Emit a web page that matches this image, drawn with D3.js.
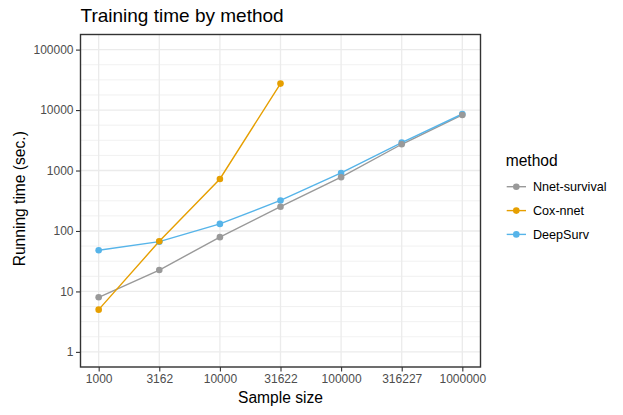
<!DOCTYPE html>
<html>
<head>
<meta charset="utf-8">
<script src="https://cdn.jsdelivr.net/npm/d3@7"></script>
<style>
  html, body { margin: 0; padding: 0; background: #fff; }
  svg { display: block; font-family: "Liberation Sans", Arial, Helvetica, sans-serif; }
</style>
</head>
<body>
<svg id="chart" width="623" height="415"></svg>
<script>
// ---- data ----
const sampleSizes = [1000, 3162, 10000, 31622, 100000, 316227, 1000000];
const sampleLabels = ["1000", "3162", "10000", "31622", "100000", "316227", "1000000"];
const methods = ["Nnet-survival", "Cox-nnet", "DeepSurv"];
const nnetSurvival = [8.0, 22.6, 79, 252, 775, 2720, 8300];
const coxNnet = [5.0, 67.5, 725, 27400];
const deepSurv = [48, 66.5, 131, 320, 912, 2890, 8610];
const yTicks = [1, 10, 100, 1000, 10000, 100000];
const yTickLabels = ["1", "10", "100", "1000", "10000", "100000"];
const colors = ["#999999", "#E69F00", "#56B4E9"];

const seriesValues = [nnetSurvival, coxNnet, deepSurv];
const lineOrder = [0, 1, 2];
const pointOrder = [2, 0, 1];

// ---- layout ----
const svg = d3.select("#chart");
const panel = { left: 80.5, right: 480.5, top: 34.5, bottom: 367 };

const xLogMin = Math.log10(d3.min(sampleSizes)), xLogMax = Math.log10(d3.max(sampleSizes));
const xPad = (xLogMax - xLogMin) * 0.05;
const x = d3.scaleLog()
  .domain([Math.pow(10, xLogMin - xPad), Math.pow(10, xLogMax + xPad)])
  .range([panel.left, panel.right]);

const yLogMin = 0, yLogMax = 5;
const yPad = (yLogMax - yLogMin) * 0.05;
const y = d3.scaleLog()
  .domain([Math.pow(10, yLogMin - yPad), Math.pow(10, yLogMax + yPad)])
  .range([panel.bottom, panel.top]);

// panel background
svg.append("rect")
  .attr("x", panel.left).attr("y", panel.top)
  .attr("width", panel.right - panel.left).attr("height", panel.bottom - panel.top)
  .attr("fill", "#fff");

// minor y grid (quarter decades)
const minorY = [];
for (let e = yLogMin - yPad; e <= yLogMax + yPad + 1e-9; e += 0.25) {
  if (Math.abs(e - Math.round(e)) > 1e-6) minorY.push(Math.pow(10, e));
}
svg.append("g").selectAll("line").data(minorY).join("line")
  .attr("x1", panel.left).attr("x2", panel.right)
  .attr("y1", d => y(d)).attr("y2", d => y(d))
  .attr("stroke", "#ebebeb").attr("stroke-width", 0.7);

// major grid
svg.append("g").selectAll("line").data(yTicks).join("line")
  .attr("x1", panel.left).attr("x2", panel.right)
  .attr("y1", d => y(d)).attr("y2", d => y(d))
  .attr("stroke", "#ebebeb").attr("stroke-width", 1.3);
svg.append("g").selectAll("line").data(sampleSizes).join("line")
  .attr("y1", panel.top).attr("y2", panel.bottom)
  .attr("x1", d => x(d)).attr("x2", d => x(d))
  .attr("stroke", "#ebebeb").attr("stroke-width", 1.3);

// series
const line = d3.line().x(d => x(d[0])).y(d => y(d[1]));
const ptsOf = i => seriesValues[i].map((v, j) => [sampleSizes[j], v]);
const linesG = svg.append("g");
lineOrder.forEach(i => {
  linesG.append("path").datum(ptsOf(i))
    .attr("d", line).attr("fill", "none")
    .attr("stroke", colors[i]).attr("stroke-width", 1.4);
});
const pointsG = svg.append("g");
pointOrder.forEach(i => {
  pointsG.append("g").selectAll("circle").data(ptsOf(i)).join("circle")
    .attr("cx", d => x(d[0])).attr("cy", d => y(d[1]))
    .attr("r", 3.3).attr("fill", colors[i]);
});

// panel border
svg.append("rect")
  .attr("x", panel.left).attr("y", panel.top)
  .attr("width", panel.right - panel.left).attr("height", panel.bottom - panel.top)
  .attr("fill", "none").attr("stroke", "#333333").attr("stroke-width", 1.4);

// axes
const yAxis = d3.axisLeft(y).tickValues(yTicks)
  .tickFormat((d, i) => yTickLabels[i]).tickSize(4.5).tickPadding(2.5);
const gy = svg.append("g").attr("transform", `translate(${panel.left},0)`).call(yAxis);
gy.select(".domain").remove();
gy.selectAll(".tick line").attr("stroke", "#333333").attr("stroke-width", 1.1);
gy.selectAll(".tick text").attr("fill", "#4d4d4d")
  .style("font-size", "12px").style("font-family", "'Liberation Sans', Arial, sans-serif");

const xAxis = d3.axisBottom(x).tickValues(sampleSizes)
  .tickFormat((d, i) => sampleLabels[i]).tickSize(4.5).tickPadding(3);
const gx = svg.append("g").attr("transform", `translate(0,${panel.bottom})`).call(xAxis);
gx.select(".domain").remove();
gx.selectAll(".tick line").attr("stroke", "#333333").attr("stroke-width", 1.1);
gx.selectAll(".tick text").attr("fill", "#4d4d4d")
  .style("font-size", "12px").style("font-family", "'Liberation Sans', Arial, sans-serif");

// titles
svg.append("text")
  .attr("x", panel.left).attr("y", 21.5)
  .attr("fill", "#000").style("font-size", "19px")
  .text("Training time by method");

svg.append("text")
  .attr("x", (panel.left + panel.right) / 2).attr("y", 402.7)
  .attr("text-anchor", "middle").attr("fill", "#000").style("font-size", "15.6px")
  .text("Sample size");

svg.append("text")
  .attr("transform", `translate(25,${(panel.top + panel.bottom) / 2 - 2}) rotate(-90)`)
  .attr("text-anchor", "middle").attr("fill", "#000").style("font-size", "15.6px")
  .text("Running time (sec.)");

// legend
const legend = svg.append("g");
legend.append("text")
  .attr("x", 505.7).attr("y", 165.5)
  .attr("fill", "#000").style("font-size", "15.6px")
  .text("method");
const rowY = [186.7, 210.6, 234.4];
methods.forEach((m, i) => {
  const gy2 = legend.append("g").attr("transform", `translate(0,${rowY[i]})`);
  gy2.append("line").attr("x1", 506.7).attr("x2", 526).attr("y1", 0).attr("y2", 0)
    .attr("stroke", colors[i]).attr("stroke-width", 1.4);
  gy2.append("circle").attr("cx", 516.3).attr("cy", 0).attr("r", 3.3).attr("fill", colors[i]);
  gy2.append("text").attr("x", 533).attr("y", 0).attr("dy", "0.36em")
    .attr("fill", "#000").style("font-size", "12.6px").text(m);
});
</script>
</body>
</html>
